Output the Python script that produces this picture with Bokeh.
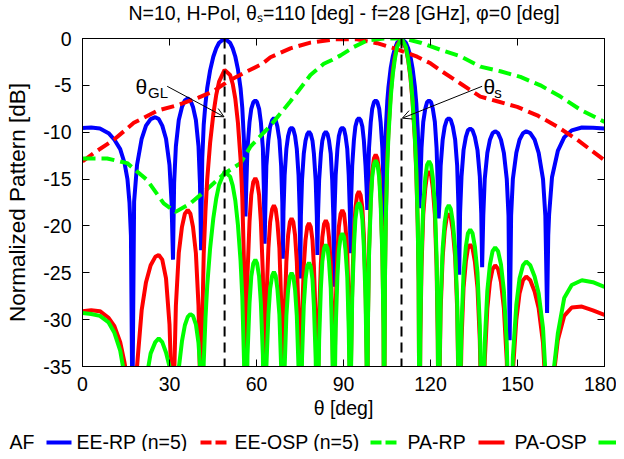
import math
import sys
from bokeh.plotting import figure
from bokeh.layouts import column
from bokeh.models import (Range1d, FixedTicker, LinearAxis, Label, Arrow, OpenHead, Span,
                          ColumnDataSource)
from bokeh.embed import file_html
from bokeh.resources import INLINE

FONT = "Liberation Sans"
FS = "19.5px"
W = 616

# ---------------- data ----------------
title_text = "N=10, H-Pol, \u03b8\u209b=110 [deg] - f=28 [GHz], \u03c6=0 [deg]"
x_ticks = [0, 30, 60, 90, 120, 150, 180]
x_tick_labels = ["0", "30", "60", "90", "120", "150", "180"]
y_ticks = [-35, -30, -25, -20, -15, -10, -5, 0]
y_tick_labels = ["-35", "-30", "-25", "-20", "-15", "-10", "-5", "0"]

theta_gl = 49.0
theta_scan = 110.0
marker_theta = [theta_gl, theta_scan]

series_names = ["AF", "EE-RP (n=5)", "EE-OSP (n=5)", "PA-RP", "PA-OSP"]

# shared theta samples for AF, PA-RP, PA-OSP (deg)
theta_pa = [
    0, 3, 6, 9, 11, 13, 14.5, 15.5, 16.2, 16.7, 17.2,
    17.8, 18.8, 20.4, 21.9, 23.5, 25.1, 26.3, 27.5, 28.8, 30.0, 30.7, 31.2,
    31.6, 32.2, 33.2, 34.3, 35.3, 36.3, 37.2, 38.1, 39.1, 40.0, 40.5, 40.9,
    41.3, 41.8, 42.4, 43.0, 44.0, 45.1, 46.1, 47.1, 49.0, 50.9, 51.8, 52.7, 53.6, 54.5, 55.1, 55.7, 56.2,
    56.5, 56.9, 57.6, 58.2, 58.9, 59.6, 60.2, 60.9, 61.5, 62.2, 62.5, 62.8,
    63.1, 63.4, 64.1, 64.7, 65.4, 66.0, 66.6, 67.2, 67.9, 68.5, 68.9, 69.1,
    69.3, 69.7, 70.3, 70.9, 71.5, 72.1, 72.7, 73.3, 73.9, 74.5, 74.9, 75.1,
    75.3, 75.7, 76.3, 76.9, 77.5, 78.1, 78.7, 79.3, 79.8, 80.4, 80.8, 81.0,
    81.2, 81.6, 82.2, 82.7, 83.3, 83.9, 84.5, 85.0, 85.6, 86.1, 86.5, 86.7,
    86.9, 87.3, 87.9, 88.4, 89.0, 89.6, 90.2, 90.7, 91.3, 91.8, 92.2, 92.4,
    92.6, 93.0, 93.6, 94.1, 94.7, 95.3, 95.9, 96.5, 97.0, 97.6, 98.0, 98.2,
    98.4, 98.8, 99.4, 99.9, 100.5, 101.1, 101.7, 102.3, 102.8, 103.4, 103.8, 104.0,
    104.3, 104.6, 105.1, 105.5, 106.3, 107.0, 107.7, 108.5, 110.0, 111.5, 112.3, 113.1, 113.8, 114.6, 115.1, 115.6, 115.9, 116.2,
    116.5, 116.9, 117.5, 118.2, 118.8, 119.5, 120.2, 120.8, 121.5, 122.1, 122.5, 122.8,
    123.1, 123.5, 124.2, 124.9, 125.6, 126.3, 127.0, 127.7, 128.5, 129.2, 129.6, 129.9,
    130.2, 130.7, 131.4, 132.2, 132.9, 133.7, 134.5, 135.3, 136.2, 137.0, 137.5, 137.8,
    138.2, 138.7, 139.6, 140.5, 141.4, 142.3, 143.3, 144.3, 145.3, 146.3, 146.9, 147.3,
    147.8, 148.4, 149.6, 150.7, 151.9, 153.0, 154.4, 155.9, 157.3, 158.8, 159.6, 160.2,
    160.6, 160.9, 161.9, 163.9, 166.1, 168.7, 172.2, 176.0, 180.0,
]

af_db = [
    -9.55, -9.5, -9.6, -10.1, -10.8, -11.8, -13.3, -15.0, -17.5, -21.0, -40.0,
    -17.4, -13.5, -10.7, -9.3, -8.6, -8.4, -8.6, -9.3, -10.7, -13.5, -17.4, -23.6,
    -15.4, -11.5, -8.7, -7.3, -6.6, -6.4, -6.6, -7.3, -8.7, -11.5, -15.4, -22.6,
    -12.8, -9.2, -6.95, -5.3, -3.4, -1.95, -1.05, -0.45, 0.0, -0.47, -1.05, -1.95, -3.3, -5.3, -7.4, -11.0, -19.0,
    -15.6, -11.7, -8.9, -7.5, -6.8, -6.6, -6.8, -7.5, -8.9, -11.7, -15.6, -21.9,
    -17.5, -13.6, -10.8, -9.4, -8.7, -8.5, -8.7, -9.4, -10.8, -13.6, -17.5, -23.5,
    -18.5, -14.6, -11.8, -10.4, -9.7, -9.5, -9.7, -10.4, -11.8, -14.6, -18.5, -25.6,
    -19.0, -15.1, -12.3, -10.9, -10.2, -9.95, -10.2, -10.9, -12.3, -15.1, -19.0, -23.1,
    -19.0, -15.1, -12.3, -10.9, -10.2, -9.95, -10.2, -10.9, -12.3, -15.1, -19.0, -26.5,
    -18.5, -14.6, -11.8, -10.4, -9.7, -9.5, -9.7, -10.4, -11.8, -14.6, -18.5, -22.9,
    -17.5, -13.6, -10.8, -9.4, -8.7, -8.5, -8.7, -9.4, -10.8, -13.6, -16.3, -18.3,
    -15.6, -11.7, -8.9, -7.5, -6.8, -6.6, -6.8, -7.5, -8.9, -11.7, -15.6, -20.0,
    -12.9, -9.6, -6.7, -5.2, -3.1, -1.9, -1.1, -0.45, 0.0, -0.45, -1.05, -1.95, -3.15, -5.1, -6.9, -9.7, -12.7, -18.1,
    -15.6, -11.7, -8.9, -7.5, -6.8, -6.6, -6.8, -7.5, -8.9, -11.7, -15.6, -19.2,
    -17.5, -13.6, -10.8, -9.4, -8.7, -8.5, -8.7, -9.4, -10.8, -13.6, -17.5, -25.2,
    -18.6, -14.7, -11.9, -10.5, -9.8, -9.6, -9.8, -10.5, -11.9, -14.7, -18.6, -24.4,
    -18.9, -15.0, -12.2, -10.8, -10.1, -9.9, -10.1, -10.8, -12.2, -15.0, -18.9, -32.2,
    -18.9, -15.0, -12.2, -10.8, -10.1, -9.9, -10.1, -10.8, -12.2, -15.0, -18.9, -29.3,
    -21.0, -18.8, -14.8, -12.0, -10.55, -9.8, -9.5, -9.52, -9.6,
]

pa_rp_db = [
    -29.1, -29.0, -29.1, -29.8, -30.7, -32.4, -34.6, -36.5, -38.5, -41.0, -45.0,
    -42.5, -35.0, -29.0, -26.0, -24.2, -23.3, -23.1, -23.6, -25.6, -30.5, -37.0, -45.0,
    -36.3, -28.5, -22.9, -20.1, -18.7, -18.3, -18.7, -20.1, -22.9, -28.5, -36.3, -45.0,
    -30.3, -23.0, -18.45, -15.05, -11.15, -8.1, -6.05, -4.6, -3.35, -3.9, -4.85, -6.45, -9.0, -12.85, -16.95, -24.1, -45.0,
    -32.9, -25.1, -19.5, -16.7, -15.3, -14.9, -15.3, -16.7, -19.5, -25.1, -32.9, -45.0,
    -35.8, -28.0, -22.4, -19.6, -18.2, -17.8, -18.2, -19.6, -22.4, -28.0, -35.8, -45.0,
    -37.2, -29.4, -23.8, -21.0, -19.6, -19.2, -19.6, -21.0, -23.8, -29.4, -37.2, -45.0,
    -37.7, -29.9, -24.3, -21.5, -20.1, -19.7, -20.1, -21.5, -24.3, -29.9, -37.7, -45.0,
    -37.4, -29.6, -24.0, -21.2, -19.8, -19.4, -19.8, -21.2, -24.0, -29.6, -37.4, -45.0,
    -36.3, -28.5, -22.9, -20.1, -18.7, -18.3, -18.7, -20.1, -22.9, -28.5, -36.3, -45.0,
    -34.3, -26.5, -20.9, -18.1, -16.7, -16.3, -16.7, -18.1, -20.9, -26.5, -34.3, -45.0,
    -30.4, -22.6, -17.0, -14.2, -12.8, -12.4, -12.8, -14.2, -17.0, -22.6, -30.4, -45.0,
    -25.15, -18.6, -12.8, -9.85, -5.75, -3.45, -1.9, -0.7, 0.0, -1.05, -2.3, -4.2, -6.7, -10.7, -14.35, -20.0, -26.0, -45.0,
    -32.2, -24.4, -18.8, -16.0, -14.6, -14.2, -14.6, -16.0, -18.8, -24.4, -32.2, -45.0,
    -36.7, -28.9, -23.3, -20.5, -19.1, -18.7, -19.1, -20.5, -23.3, -28.9, -36.7, -45.0,
    -40.0, -32.2, -26.6, -23.8, -22.4, -22.0, -22.4, -23.8, -26.6, -32.2, -40.0, -45.0,
    -42.2, -34.4, -28.8, -26.0, -24.6, -24.2, -24.6, -26.0, -28.8, -34.4, -42.2, -45.0,
    -43.4, -35.6, -30.0, -27.2, -25.8, -25.4, -25.8, -27.0, -28.8, -32.5, -37.0, -45.0,
    -45.0, -44.0, -37.5, -32.2, -29.6, -28.7, -28.6, -29.0, -29.5,
]

pa_osp_db = [
    -29.3, -29.4, -29.6, -30.3, -31.4, -33.3, -36.0, -38.0, -40.0, -42.0, -45.0,
    -45.0, -45.0, -40.0, -36.5, -33.6, -32.4, -32.0, -32.4, -33.5, -35.0, -38.0, -45.0,
    -45.0, -40.0, -35.2, -32.3, -30.6, -29.7, -29.4, -29.6, -30.5, -32.5, -34.8, -45.0,
    -42.0, -34.6, -29.9, -26.4, -22.4, -19.2, -17.1, -15.6, -14.2, -14.74, -15.7, -17.3, -19.9, -23.7, -27.6, -34.4, -45.0,
    -41.6, -33.8, -28.2, -25.4, -24.0, -23.6, -24.0, -25.4, -28.2, -33.8, -41.6, -45.0,
    -42.9, -35.1, -29.5, -26.7, -25.3, -24.9, -25.3, -26.7, -29.5, -35.1, -42.9, -45.0,
    -43.0, -35.2, -29.6, -26.8, -25.4, -25.0, -25.4, -26.8, -29.6, -35.2, -43.0, -45.0,
    -41.9, -34.1, -28.5, -25.7, -24.3, -23.9, -24.3, -25.7, -28.5, -34.1, -41.9, -45.0,
    -40.0, -32.2, -26.6, -23.8, -22.4, -22.0, -22.4, -23.8, -26.6, -32.2, -40.0, -45.0,
    -38.8, -31.0, -25.4, -22.6, -21.2, -20.8, -21.2, -22.6, -25.4, -31.0, -38.8, -45.0,
    -35.5, -27.7, -22.1, -19.3, -17.9, -17.5, -17.9, -19.3, -22.1, -27.7, -35.5, -45.0,
    -31.0, -23.2, -17.6, -14.8, -13.4, -13.0, -13.4, -14.8, -17.6, -23.2, -31.0, -45.0,
    -25.8, -19.2, -13.4, -10.4, -6.2, -3.8, -2.2, -0.9, 0.0, -0.9, -2.2, -4.0, -6.5, -10.45, -14.0, -19.7, -25.7, -45.0,
    -31.1, -23.3, -17.7, -14.9, -13.5, -13.1, -13.5, -14.9, -17.7, -23.3, -31.1, -45.0,
    -35.8, -28.0, -22.4, -19.6, -18.2, -17.8, -18.2, -19.6, -22.4, -28.0, -35.8, -45.0,
    -38.4, -30.6, -25.0, -22.2, -20.8, -20.4, -20.8, -22.2, -25.0, -30.6, -38.4, -45.0,
    -40.3, -32.5, -26.9, -24.1, -22.7, -22.3, -22.7, -24.1, -26.9, -32.5, -40.3, -45.0,
    -41.8, -34.0, -28.4, -25.6, -24.2, -23.8, -24.2, -25.4, -27.2, -30.9, -35.5, -45.0,
    -45.0, -44.0, -37.0, -31.5, -27.7, -26.3, -25.8, -26.0, -26.5,
]

theta_ee_rp = [0, 5, 10.8, 17.7, 25.8, 33, 40, 45.3, 50, 56.8, 62, 64.8, 71.7, 78.6, 86.7,
               94.7, 101.6, 108.5, 115.4, 120, 123.4, 130.3, 137.2, 143, 149.9, 156.8,
               163.7, 170.6, 180]
ee_rp_db = [-13.1, -12.0, -10.8, -9.0, -7.7, -7.1, -6.3, -5.6, -4.6, -3.5, -2.7, -2.0, -1.05,
            -0.44, -0.09, -0.09, -0.5, -1.15, -1.94, -2.65, -3.4, -4.8, -6.2, -6.7, -7.3,
            -8.2, -9.4, -10.8, -13.0]

theta_ee_osp = [0, 8.5, 15.4, 22.3, 28, 32.1, 37.2, 44, 49, 54.5, 58, 61.4, 64.8, 71.7, 78.6,
                83.2, 86, 89, 93.6, 98.2, 103.9, 110.7, 116.6, 123.4, 130.3, 137.2, 144.1,
                151, 157.9, 164.8, 171.7, 180]
ee_osp_db = [-12.8, -12.8, -13.3, -15.1, -17.6, -18.5, -17.6, -15.8, -14.4, -13.3, -11.5,
             -10.4, -9.3, -6.7, -3.9, -2.7, -2.3, -1.8, -0.9, -0.2, 0.0, 0.0, -0.45, -1.2,
             -1.9, -3.0, -3.5, -4.1, -5.0, -6.2, -7.6, -8.9]


def src(xs, ys):
    n = min(len(xs), len(ys))
    if len(xs) != len(ys):
        print("length mismatch", len(xs), len(ys), file=sys.stderr)
    return ColumnDataSource(dict(x=list(xs[:n]), y=list(ys[:n])))


def lab(fig, x, y, text, size, **kw):
    fig.add_layout(Label(x=x, y=y, text=text, text_font=FONT, text_font_size=size,
                         text_color="black", text_baseline="middle", **kw))


def strip(height):
    f = figure(width=W, height=height, output_backend="svg", toolbar_location=None,
               frame_align=False, x_range=Range1d(0, W), y_range=Range1d(0, height),
               x_axis_location=None, y_axis_location=None, min_border=0,
               background_fill_color="white", border_fill_color="white")
    f.outline_line_color = None
    f.grid.visible = False
    return f


# ---------------- title strip (pixel coordinates) ----------------
TH = 28
ft = strip(TH)
lab(ft, 128, TH - 12.5, title_text, FS)

# ---------------- main plot ----------------
MH = 430 - TH
p = figure(width=W, height=MH, output_backend="svg", toolbar_location=None, frame_align=False,
           x_range=Range1d(0, 180), y_range=Range1d(-35, 0),
           min_border_left=82, min_border_right=12, min_border_top=38 - TH,
           min_border_bottom=430 - 366,
           background_fill_color="white", border_fill_color="white")
p.xgrid.visible = False
p.ygrid.visible = False
p.outline_line_color = "black"
p.outline_line_width = 1

for ax, ticks, labels, standoff in [(p.xaxis[0], x_ticks, x_tick_labels, 10),
                                    (p.yaxis[0], y_ticks, y_tick_labels, 11)]:
    ax.ticker = FixedTicker(ticks=ticks)
    ax.major_label_overrides = {t: l for t, l in zip(ticks, labels)}
    ax.major_tick_in = 7
    ax.major_tick_out = 0
    ax.minor_tick_in = 0
    ax.minor_tick_out = 0
    ax.axis_line_color = "black"
    ax.major_tick_line_color = "black"
    ax.major_label_text_font = FONT
    ax.major_label_text_font_size = FS
    ax.major_label_text_color = "black"
    ax.major_label_standoff = standoff
    ax.axis_label_text_font = FONT
    ax.axis_label_text_font_size = FS
    ax.axis_label_text_font_style = "normal"
    ax.axis_label_text_color = "black"

p.xaxis[0].axis_label = "\u03b8 [deg]"
p.xaxis[0].axis_label_standoff = 3
p.yaxis[0].axis_label = "Normalized Pattern [dB]"
p.yaxis[0].axis_label_text_font_size = "22.5px"
p.yaxis[0].axis_label_standoff = 10

for loc, ticks in [("above", x_ticks), ("right", y_ticks)]:
    ax = LinearAxis(ticker=FixedTicker(ticks=ticks),
                    major_label_overrides={t: "" for t in ticks},
                    major_label_text_font_size="1px", major_label_standoff=0,
                    major_tick_in=7, major_tick_out=0, minor_tick_in=0, minor_tick_out=0,
                    axis_line_color="black", major_tick_line_color="black")
    p.add_layout(ax, loc)

LW = 4
DASH = "13 6"
p.line("x", "y", source=src(theta_pa, af_db), line_color="#0000ff", line_width=LW)
p.line("x", "y", source=src(theta_ee_rp, ee_rp_db), line_color="#ff0000", line_width=LW, line_dash=DASH)
p.line("x", "y", source=src(theta_ee_osp, ee_osp_db), line_color="#00ff00", line_width=LW, line_dash=DASH)
p.line("x", "y", source=src(theta_pa, pa_rp_db), line_color="#ff0000", line_width=LW)
p.line("x", "y", source=src(theta_pa, pa_osp_db), line_color="#00ff00", line_width=LW)

for v in marker_theta:
    p.add_layout(Span(location=v, dimension="height", line_color="black",
                      line_width=2, line_dash="10 6"))

lab(p, 18.3, -5.1, "\u03b8", "21px")
lab(p, 22.6, -5.75, "GL", "15px")
lab(p, 138.3, -5.1, "\u03b8", "21px")
lab(p, 142.0, -5.8, "s", "15px")
p.add_layout(Arrow(end=OpenHead(size=9, line_width=1, line_color="black"),
                   x_start=29.2, y_start=-5.1, x_end=theta_gl - 0.2, y_end=-8.35,
                   line_color="black", line_width=1))
p.add_layout(Arrow(end=OpenHead(size=9, line_width=1, line_color="black"),
                   x_start=137.8, y_start=-5.1, x_end=theta_scan + 0.3, y_end=-8.5,
                   line_color="black", line_width=1))

# ---------------- legend strip (pixel coordinates, gnuplot style: label then sample) ----------------
LH = 451 - 430
fl = strip(LH)
legend_text_x = [9, 76, 234, 407, 514]
legend_line_x = [(46, 71), (200, 226), (370, 397), (478, 504), (598, 624)]
legend_style = [("#0000ff", None), ("#ff0000", "11 4"), ("#00ff00", "11 4"),
                ("#ff0000", None), ("#00ff00", None)]
for name, tx, (l0, l1), (col, dash) in zip(series_names, legend_text_x, legend_line_x, legend_style):
    lab(fl, tx, 10, name, FS)
    kw = dict(line_dash=dash) if dash else {}
    fl.line([l0, l1], [9, 9], line_color=col, line_width=LW, **kw)

layout = column(ft, p, fl, spacing=0)
open("out.html", "w").write(file_html(layout, INLINE))
